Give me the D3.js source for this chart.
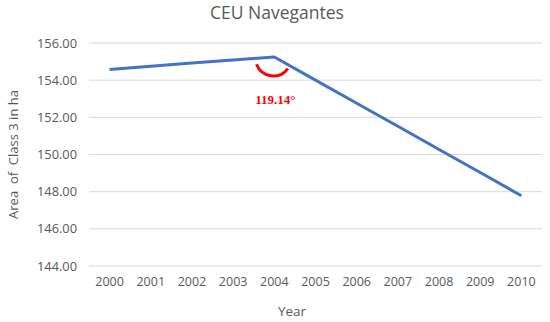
<!DOCTYPE html>
<html>
<head>
<meta charset="utf-8">
<script src="https://cdn.jsdelivr.net/npm/d3@7"></script>
<style>
  body { margin: 0; background: #fff; }
  text { font-family: "Open Sans", "Liberation Sans", sans-serif; }
</style>
</head>
<body>
<script>
// values
var years = ["2000", "2001", "2002", "2003", "2004", "2005", "2006", "2007", "2008", "2009", "2010"];
var area = [154.58, 154.75, 154.92, 155.08, 155.25, 154.00, 152.76, 151.52, 150.27, 149.03, 147.78];
var yTicks = [144, 146, 148, 150, 152, 154, 156];
var angleLabel = "119.14°";
var angleYear = "2004";

var width = 550, height = 322;
var margin = {top: 43, right: 8, bottom: 56, left: 89};

var svg = d3.select("body").append("svg")
    .attr("width", width)
    .attr("height", height);

var x = d3.scaleBand()
    .domain(years)
    .range([margin.left, width - margin.right]);

var y = d3.scaleLinear()
    .domain([144, 156])
    .range([height - margin.bottom, margin.top]);

// gridlines
svg.append("g")
    .selectAll("line")
    .data(yTicks)
    .enter().append("line")
        .attr("x1", margin.left)
        .attr("x2", width - margin.right)
        .attr("y1", function(d) { return y(d); })
        .attr("y2", function(d) { return y(d); })
        .attr("stroke", "#d9d9d9")
        .attr("stroke-width", 1);

// y axis labels
var yAxis = svg.append("g")
    .attr("transform", "translate(" + margin.left + ",0)")
    .call(d3.axisLeft(y).tickValues(yTicks).tickFormat(d3.format(".2f")).tickSize(0).tickPadding(12));
yAxis.select(".domain").remove();
yAxis.selectAll("text")
    .attr("fill", "#595959")
    .style("font-size", "12.8px");

// x axis labels
var xAxis = svg.append("g")
    .attr("transform", "translate(0," + (height - margin.bottom) + ")")
    .call(d3.axisBottom(x).tickSize(0).tickPadding(11));
xAxis.select(".domain").remove();
xAxis.selectAll("text")
    .attr("fill", "#595959")
    .style("font-size", "12.5px");

// the line
var line = d3.line()
    .x(function(d, i) { return x(years[i]) + x.bandwidth() / 2; })
    .y(function(d) { return y(d); });

svg.append("path")
    .datum(area)
    .attr("d", line)
    .attr("fill", "none")
    .attr("stroke", "#4472c4")
    .attr("stroke-width", 3)
    .attr("stroke-linejoin", "round");

// angle marker at the break point
var ai = years.indexOf(angleYear);
var ax = x(angleYear) + x.bandwidth() / 2;
var ay = y(area[ai]);

var arc = d3.arc()
    .innerRadius(18)
    .outerRadius(18)
    .startAngle(2.2)
    .endAngle(4.35);

svg.append("path")
    .attr("d", arc())
    .attr("transform", "translate(" + (ax - 1) + "," + (ay + 1) + ")")
    .attr("fill", "none")
    .attr("stroke", "#ff0000")
    .attr("stroke-width", 3)
    .attr("stroke-linecap", "round");

svg.append("text")
    .attr("x", ax + 1)
    .attr("y", ay + 47)
    .attr("text-anchor", "middle")
    .attr("fill", "#ff0000")
    .style("font-family", "'Liberation Serif', 'DejaVu Serif', serif")
    .style("font-weight", "bold")
    .style("font-size", "13px")
    .text(angleLabel);

// title
svg.append("text")
    .attr("x", 277)
    .attr("y", 19)
    .attr("text-anchor", "middle")
    .attr("fill", "#595959")
    .style("font-size", "17.5px")
    .text("CEU Navegantes");

// axis titles
svg.append("text")
    .attr("x", 292)
    .attr("y", 316)
    .attr("text-anchor", "middle")
    .attr("fill", "#595959")
    .style("font-size", "13.5px")
    .text("Year");

svg.append("text")
    .attr("transform", "translate(18," + ((margin.top + height - margin.bottom) / 2) + ") rotate(-90)")
    .attr("text-anchor", "middle")
    .attr("fill", "#595959")
    .style("font-size", "13px")
    .style("white-space", "pre")
    .text("Area  of  Class 3 in ha");
</script>
</body>
</html>
